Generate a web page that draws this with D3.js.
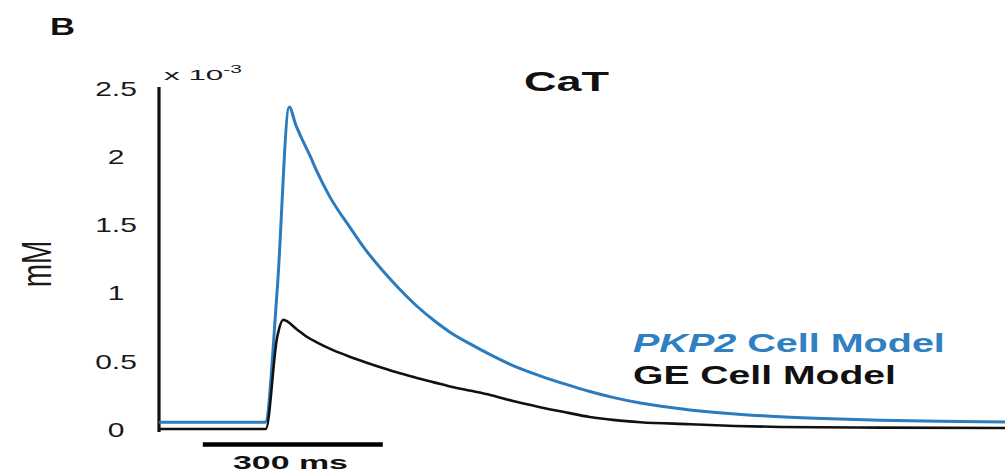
<!DOCTYPE html>
<html>
<head>
<meta charset="utf-8">
<script src="https://cdn.jsdelivr.net/npm/d3@7"></script>
<style>
  html, body { margin: 0; padding: 0; background: #fff; }
  svg { display: block; font-family: "Liberation Sans", Arial, sans-serif; }
</style>
</head>
<body>
<svg id="chart" width="1005" height="475"></svg>
<script>
// ---- data (time in ms, Ca in units of 10^-3 mM) ----
const pkp2Time = [0, 177, 197, 217, 228, 240, 252, 263, 285, 318, 345, 373, 400, 430, 460, 485, 520, 552, 590, 635, 680, 718, 760, 802, 885, 960, 1035, 1120, 1202, 1300, 1410];
const pkp2Ca   = [0.05, 0.05, 1.02, 2.36, 2.23, 2.11, 2.0, 1.89, 1.70, 1.48, 1.31, 1.16, 1.03, 0.90, 0.79, 0.71, 0.62, 0.545, 0.465, 0.39, 0.325, 0.275, 0.228, 0.19, 0.14, 0.11, 0.09, 0.075, 0.065, 0.057, 0.051];
const geTime   = [0, 178, 197, 207, 230, 245, 263, 290, 318, 345, 373, 400, 430, 460, 485, 520, 552, 590, 635, 680, 718, 760, 802, 885, 960, 1035, 1200, 1410];
const geCa     = [0, 0, 0.675, 0.80, 0.73, 0.68, 0.635, 0.578, 0.53, 0.488, 0.447, 0.41, 0.374, 0.34, 0.312, 0.28, 0.25, 0.205, 0.16, 0.12, 0.088, 0.065, 0.05, 0.035, 0.022, 0.015, 0.01, 0.007];
const yTickValues = [0, 0.5, 1, 1.5, 2, 2.5];
const yTickLabels = ["0", "0.5", "1", "1.5", "2", "2.5"];
const timeDomain = [0, 1410];
const caDomain = [0, 2.5];
const scaleBarStart = 73;
const scaleBarLength = 300;
const seriesNames = ["PKP2", " Cell Model", "GE Cell Model"];

const svg = d3.select("#chart");
const x = d3.scaleLinear().domain(timeDomain).range([159, 1005]);
const y = d3.scaleLinear().domain(caDomain).range([429, 88]);

// helper: fit text horizontally to a measured width
function fit(sel, tx, ty, w) {
  const n = sel.node().getComputedTextLength();
  sel.attr("x", 0).attr("y", 0)
     .attr("transform", `translate(${tx},${ty}) scale(${w / n},1)`);
  return sel;
}

// y axis
const yAxis = d3.axisLeft(y).tickValues(yTickValues)
  .tickFormat((d, i) => yTickLabels[i]).tickSize(0).tickPadding(0);
const gy = svg.append("g").attr("transform", `translate(159,0)`).call(yAxis);
gy.select(".domain").attr("stroke", "#111").attr("stroke-width", 3.2)
  .attr("d", `M0,${y(2.5) - 1}V${y(0) + 3}`);
gy.selectAll(".tick text")
  .attr("font-size", 20).attr("fill", "#1a1a1a")
  .attr("text-anchor", "middle").attr("dy", "0.36em")
  .attr("x", 0)
  .attr("transform", "translate(-43,0) scale(1.5,1)");

// lines
const line = d3.line().x(d => x(d[0])).y(d => y(d[1])).curve(d3.curveMonotoneX);
svg.append("path").datum(pkp2Time.map((t, i) => [t, pkp2Ca[i]]))
  .attr("d", line).attr("fill", "none").attr("stroke", "#2b7bbf")
  .attr("stroke-width", 3).attr("stroke-linejoin", "round");
svg.append("path").datum(geTime.map((t, i) => [t, geCa[i]]))
  .attr("d", line).attr("fill", "none").attr("stroke", "#111")
  .attr("stroke-width", 2.6).attr("stroke-linejoin", "round");

// scale bar
svg.append("line")
  .attr("x1", x(scaleBarStart)).attr("x2", x(scaleBarStart + scaleBarLength))
  .attr("y1", 444.5).attr("y2", 444.5)
  .attr("stroke", "#000").attr("stroke-width", 4.5);
fit(svg.append("text").text(scaleBarLength + " ms")
  .attr("font-size", 19).attr("font-weight", "bold").attr("fill", "#111"), 233, 469, 115);

// panel label
fit(svg.append("text").text("B").attr("font-size", 24).attr("font-weight", "bold").attr("fill", "#111"), 50, 35, 25);

// title
fit(svg.append("text").text("CaT").attr("font-size", 27).attr("font-weight", "bold").attr("fill", "#111"), 524, 91, 85);

// exponent
const ex = svg.append("text").attr("font-size", 15).attr("fill", "#1a1a1a");
ex.append("tspan").text("x 10");
ex.append("tspan").text("-3").attr("font-size", 10).attr("dy", -7);
fit(ex, 164, 80, 78);

// y label
svg.append("text").text("mM").attr("font-size", 28).attr("fill", "#1a1a1a")
  .attr("text-anchor", "middle")
  .attr("transform", "translate(51,264) scale(1.5,1) rotate(-90)");

// legend
const l1 = svg.append("text").attr("font-size", 25).attr("font-weight", "bold").attr("fill", "#2f80c3");
l1.append("tspan").text(seriesNames[0]).attr("font-style", "italic");
l1.append("tspan").text(seriesNames[1]);
fit(l1, 633, 352, 312);
fit(svg.append("text").text(seriesNames[2]).attr("font-size", 25).attr("font-weight", "bold").attr("fill", "#111"), 633, 384, 263);
</script>
</body>
</html>
